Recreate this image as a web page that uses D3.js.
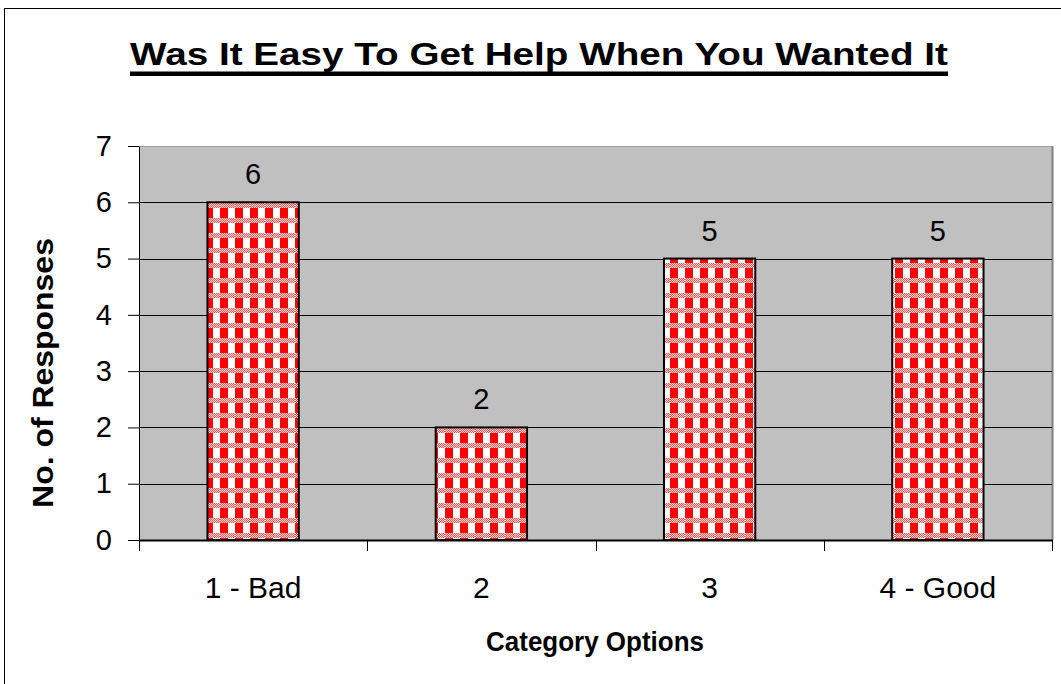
<!DOCTYPE html>
<html>
<head>
<meta charset="utf-8">
<script src="https://cdn.jsdelivr.net/npm/d3@7"></script>
<style>
  html, body { margin: 0; padding: 0; background: #fff; }
  svg { display: block; font-family: "Liberation Sans", Arial, sans-serif; }
</style>
</head>
<body>
<svg id="chart" width="1061" height="684"></svg>
<script>
// Survey responses per rating option
const categories = ["1 - Bad", "2", "3", "4 - Good"];
const responses = [6, 2, 5, 5];
const yTicks = [0, 1, 2, 3, 4, 5, 6, 7];

const titleText = "Was It Easy To Get Help When You Wanted It";
const xTitle = "Category Options";
const yTitle = "No. of Responses";

const W = 1061, H = 684;
const plot = { left: 139, top: 146, right: 1052, bottom: 540 };
const labelSize = 29;

const svg = d3.select("#chart");

// Checked red fill used for the bars
const defs = svg.append("defs");
const pat = defs.append("pattern")
  .attr("id", "gingham")
  .attr("patternUnits", "userSpaceOnUse")
  .attr("x", 10).attr("y", 13)
  .attr("width", 15).attr("height", 15);
pat.append("rect").attr("width", 15).attr("height", 15).attr("fill", "#ff0000");
pat.append("rect").attr("x", 8).attr("y", 0).attr("width", 7).attr("height", 10).attr("fill", "#ffffff");
// pink dotted band between rows
pat.append("rect").attr("x", 0).attr("y", 10).attr("width", 15).attr("height", 5).attr("fill", "#ff5050");
for (let px = 0; px < 15; px++) {
  for (let py = 10; py < 15; py++) {
    if ((px + py) % 2 === 0) {
      pat.append("rect").attr("x", px).attr("y", py).attr("width", 1).attr("height", 1).attr("fill", "#ffe0e0");
    }
  }
}

// Text widened horizontally to a given width (wide bold headings)
function wideText(parent, str, size, width, tx, ty, rotate) {
  const t = parent.append("text")
    .attr("text-anchor", "middle")
    .attr("font-size", size).attr("font-weight", "bold")
    .text(str);
  const natural = t.node().getComputedTextLength();
  const s = width / natural;
  t.attr("transform", `translate(${tx},${ty})${rotate ? " rotate(-90)" : ""} scale(${s},1)`);
  return t;
}

// Outer chart frame
svg.append("rect")
  .attr("x", 4.5).attr("y", 8.5)
  .attr("width", W + 10).attr("height", H + 10)
  .attr("fill", "none").attr("stroke", "#000").attr("stroke-width", 1);

const x = d3.scaleBand()
  .domain(categories)
  .range([plot.left, plot.right])
  .paddingInner(0.6).paddingOuter(0.3);

const xb = d3.scaleBand().domain(categories).range([plot.left, plot.right]);

const y = d3.scaleLinear().domain([0, 7]).range([plot.bottom, plot.top]);

// Plot area
svg.append("rect")
  .attr("x", plot.left).attr("y", plot.top)
  .attr("width", plot.right - plot.left).attr("height", plot.bottom - plot.top)
  .attr("fill", "#c0c0c0");
svg.append("line")
  .attr("x1", plot.left).attr("x2", plot.right)
  .attr("y1", plot.top + 0.5).attr("y2", plot.top + 0.5)
  .attr("stroke", "#a0a0a0").attr("stroke-width", 1);
svg.append("line")
  .attr("x1", plot.right + 0.5).attr("x2", plot.right + 0.5)
  .attr("y1", plot.top).attr("y2", plot.bottom)
  .attr("stroke", "#808080").attr("stroke-width", 2);

// Gridlines
svg.append("g").selectAll("line")
  .data(yTicks.filter(d => d > 0 && d < 7))
  .join("line")
  .attr("x1", plot.left).attr("x2", plot.right)
  .attr("y1", d => Math.round(y(d)) + 0.5).attr("y2", d => Math.round(y(d)) + 0.5)
  .attr("stroke", "#000").attr("stroke-width", 1);

// Bars
svg.append("g").selectAll("rect")
  .data(responses)
  .join("rect")
  .attr("x", (d, i) => x(categories[i]))
  .attr("y", d => y(d))
  .attr("width", x.bandwidth())
  .attr("height", d => y(0) - y(d))
  .attr("fill", "url(#gingham)")
  .attr("stroke", "#000").attr("stroke-width", 2);

// Value labels
svg.append("g").selectAll("text")
  .data(responses)
  .join("text")
  .attr("x", (d, i) => x(categories[i]) + x.bandwidth() / 2)
  .attr("y", d => y(d) - 18)
  .attr("text-anchor", "middle")
  .attr("font-size", labelSize)
  .text(d => d);

// Y axis
const yAxis = svg.append("g")
  .attr("transform", `translate(${plot.left},0)`)
  .call(d3.axisLeft(y).tickValues(yTicks).tickSize(11).tickSizeOuter(0).tickPadding(16).tickFormat(d3.format("d")));
yAxis.select(".domain").attr("stroke", "#000");
yAxis.selectAll("line").attr("stroke", "#000");
yAxis.selectAll("text").attr("font-size", labelSize).attr("font-family", "Liberation Sans, Arial, sans-serif").attr("fill", "#000");

// X axis with ticks at category boundaries
const xAxisG = svg.append("g").attr("transform", `translate(0,${plot.bottom})`);
xAxisG.append("line")
  .attr("x1", plot.left).attr("x2", plot.right + 1)
  .attr("y1", 0.5).attr("y2", 0.5)
  .attr("stroke", "#000").attr("stroke-width", 2);
const boundaries = categories.map(c => xb(c)).concat([plot.right]);
xAxisG.selectAll("line.tick")
  .data(boundaries)
  .join("line")
  .attr("class", "tick")
  .attr("x1", d => Math.round(d) + 0.5).attr("x2", d => Math.round(d) + 0.5)
  .attr("y1", 0).attr("y2", 11)
  .attr("stroke", "#000");
xAxisG.selectAll("text")
  .data(categories)
  .join("text")
  .attr("x", d => xb(d) + xb.bandwidth() / 2)
  .attr("y", 58)
  .attr("text-anchor", "middle")
  .attr("font-size", labelSize + 1)
  .text(d => d);

// Chart title with a heavy underline
wideText(svg, titleText, 32, 818, 539, 65, false);
svg.append("rect")
  .attr("x", 130).attr("y", 71.5)
  .attr("width", 818).attr("height", 4.5)
  .attr("fill", "#000");

// Axis titles
wideText(svg, xTitle, 27, 218, 595, 651, false);
wideText(svg, yTitle, 29, 270, 53, 373, true);
</script>
</body>
</html>
